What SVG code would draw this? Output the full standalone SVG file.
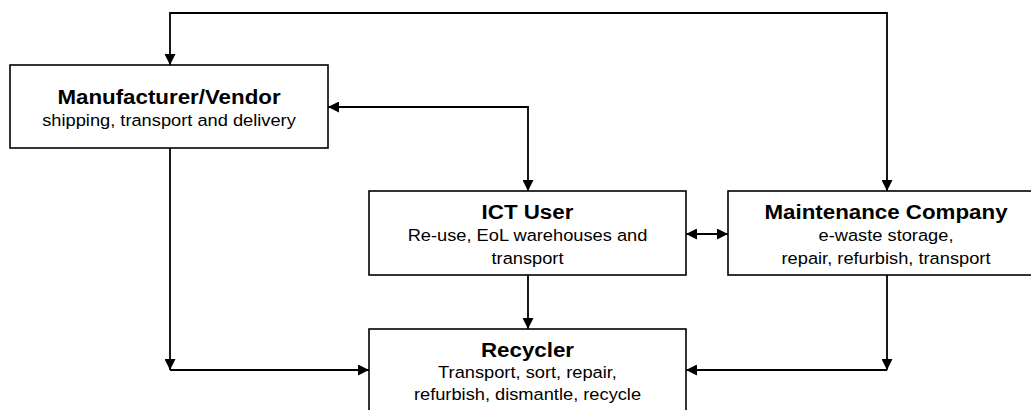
<svg xmlns="http://www.w3.org/2000/svg" width="1031" height="410" viewBox="0 0 1031 410">
<defs>
<style>
.box{fill:#fff;stroke:#000;stroke-width:1.6}
.con{fill:none;stroke:#000;stroke-width:1.8}
.t{font-family:"Liberation Sans",Arial,sans-serif;font-weight:bold;font-size:20.3px;text-anchor:middle;fill:#000}
.s{font-family:"Liberation Sans",Arial,sans-serif;font-size:16.6px;text-anchor:middle;fill:#000}
</style>
<marker id="ah" viewBox="0 0 10 10" refX="10" refY="5" markerWidth="11" markerHeight="11" markerUnits="userSpaceOnUse" orient="auto-start-reverse">
<path d="M0,0 L10,5 L0,10 z" fill="#000"/>
</marker>
</defs>
<rect width="1031" height="410" fill="#fff"/>
<g id="connectors">
<path class="con" d="M887,191 L887,13 L170,13 L170,65" marker-start="url(#ah)" marker-end="url(#ah)"/>
<path class="con" d="M328,107 L528,107 L528,191" marker-start="url(#ah)" marker-end="url(#ah)"/>
<path class="con" d="M686,234 L728,234" marker-start="url(#ah)" marker-end="url(#ah)"/>
<path class="con" d="M528,275 L528,329" marker-end="url(#ah)"/>
<path class="con" d="M170,148 L170,370" marker-end="url(#ah)"/>
<path class="con" d="M170,370 L369,370" marker-end="url(#ah)"/>
<path class="con" d="M887,275 L887,370" marker-end="url(#ah)"/>
<path class="con" d="M887,370 L686,370" marker-end="url(#ah)"/>
</g>
<g id="manufacturer">
<rect class="box" x="10" y="65" width="318" height="83"/>
<text class="t" transform="translate(169,103.5) scale(1.1,1)">Manufacturer/Vendor</text>
<text class="s" transform="translate(169,126) scale(1.1,1)">shipping, transport and delivery</text>
</g>
<g id="ict-user">
<rect class="box" x="369" y="191" width="317" height="84"/>
<text class="t" transform="translate(527.5,218.5) scale(1.1,1)">ICT User</text>
<text class="s" transform="translate(527.5,241) scale(1.1,1)">Re-use, EoL warehouses and</text>
<text class="s" transform="translate(527.5,264) scale(1.1,1)">transport</text>
</g>
<g id="maintenance">
<rect class="box" x="728" y="191" width="318" height="84"/>
<text class="t" transform="translate(886,218.5) scale(1.1,1)">Maintenance Company</text>
<text class="s" transform="translate(886,240.5) scale(1.1,1)">e-waste storage,</text>
<text class="s" transform="translate(886,263.5) scale(1.1,1)">repair, refurbish, transport</text>
</g>
<g id="recycler">
<rect class="box" x="369" y="329" width="317" height="100"/>
<text class="t" transform="translate(527.5,357) scale(1.1,1)">Recycler</text>
<text class="s" transform="translate(527.5,378) scale(1.1,1)">Transport, sort, repair,</text>
<text class="s" transform="translate(527.5,400) scale(1.1,1)">refurbish, dismantle, recycle</text>
</g>
</svg>
